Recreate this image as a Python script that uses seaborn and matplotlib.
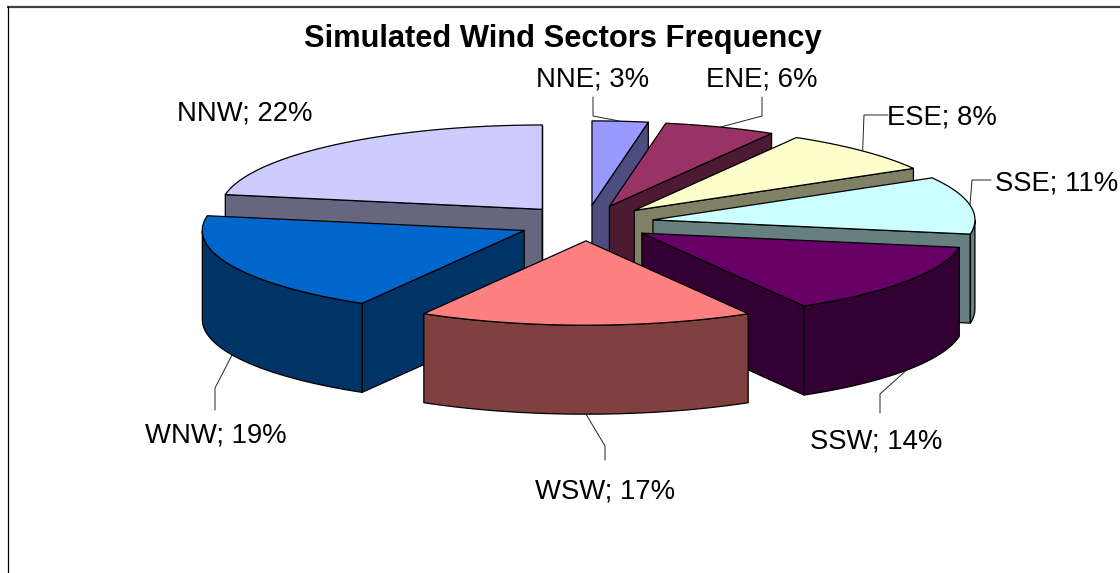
import numpy as np
import matplotlib
matplotlib.use("Agg")
import matplotlib.pyplot as plt
import seaborn as sns

# wind sectors, clockwise from north
sectors = ["NNE", "ENE", "ESE", "SSE", "SSW", "WSW", "WNW", "NNW"]
frequency = [2.8, 5.6, 8.3, 11.0, 13.9, 16.8, 19.4, 22.2]
slice_colors = ["#9999FF", "#993366", "#FFFFCC", "#CCFFFF",
                "#660066", "#FF8080", "#0066CC", "#CCCCFF"]

# label centre, leader elbow, leader end (pixels); NNW has no leader
label_xy = [(593, 79), (762, 79), (942, 117), (1057, 183),
            (876, 442), (605, 491), (216, 435), (245, 114)]
leader_elbow = [(593, 116), (762, 116), (864, 115), (972, 180),
                (880, 394), (605, 446), (215, 388), None]
leader_end = [(593, 97), (762, 97), (888, 115), (991, 180),
              (880, 413), (605, 460), (215, 410), None]

# pie geometry in pixels
CX, CY = 586, 223
RADIUS = 322
SQUASH = 0.262
EXPLODE = 68
DEPTH = 89

sns.set_theme(style="white")
plt.rcParams["font.family"] = ["Liberation Sans", "DejaVu Sans"]
palette = sns.color_palette(slice_colors)

fig = plt.figure(figsize=(11.2, 5.73), dpi=100)
ax = fig.add_axes([0, 0, 1, 1])
ax.set_xlim(0, 1120)
ax.set_ylim(573, 0)
ax.axis("off")


def on_plane(angle, r, ox=0.0, oy=0.0):
    # angle in degrees clockwise from north
    a = np.radians(angle)
    return ox + r * np.sin(a), oy - r * SQUASH * np.cos(a)


edges = np.concatenate([[0], np.cumsum(frequency)]) / np.sum(frequency) * 360
mids = (edges[:-1] + edges[1:]) / 2

# back slices first
for i in np.argsort(-np.cos(np.radians(mids))):
    start, stop = edges[i], edges[i + 1]
    ox, oy = on_plane(mids[i], EXPLODE, CX, CY)
    theta = np.linspace(start, stop, 60)
    arc_x, arc_y = on_plane(theta, RADIUS, ox, oy)
    top = palette[i]
    wall = tuple(np.array(top) * 0.5)
    style = dict(edgecolor="black", linewidth=0.9, joinstyle="round")

    # radial walls, only the ones facing the viewer
    for end, visible in ((0, np.sin(np.radians(start)) < 0),
                         (-1, np.sin(np.radians(stop)) > 0)):
        if visible:
            ax.fill([ox, arc_x[end], arc_x[end], ox],
                    [oy, arc_y[end], arc_y[end] + DEPTH, oy + DEPTH],
                    facecolor=wall, **style)
    # outer wall, front half of the rim only
    front = (theta >= 90) & (theta <= 270)
    if front.any():
        fx, fy = arc_x[front], arc_y[front]
        ax.fill(np.r_[fx, fx[::-1]], np.r_[fy, fy[::-1] + DEPTH],
                facecolor=wall, **style)
    # top face
    ax.fill(np.r_[ox, arc_x], np.r_[oy, arc_y], facecolor=top, **style)

    # leader from the rim to the label
    if leader_elbow[i] is not None:
        px, py = on_plane(mids[i], RADIUS, ox, oy)
        if np.cos(np.radians(mids[i])) < -0.3:
            py += DEPTH
        ax.plot([px, leader_elbow[i][0], leader_end[i][0]],
                [py, leader_elbow[i][1], leader_end[i][1]],
                color="#222222", linewidth=0.7)

for name, val, (x, y) in zip(sectors, frequency, label_xy):
    ax.text(x, y, f"{name}; {val:.0f}%", ha="center", va="center",
            fontsize=19.8, color="black")

ax.text(563, 39, "Simulated Wind Sectors Frequency", ha="center", va="center",
        fontsize=22.2, fontweight="bold", color="black")

# chart frame: only top and left edges show
ax.plot([7, 1120], [6.5, 6.5], color="#404040", linewidth=1.6, solid_capstyle="butt")
ax.plot([7.5, 7.5], [6, 573], color="black", linewidth=0.9, solid_capstyle="butt")

fig.savefig("out.png", dpi=100)
